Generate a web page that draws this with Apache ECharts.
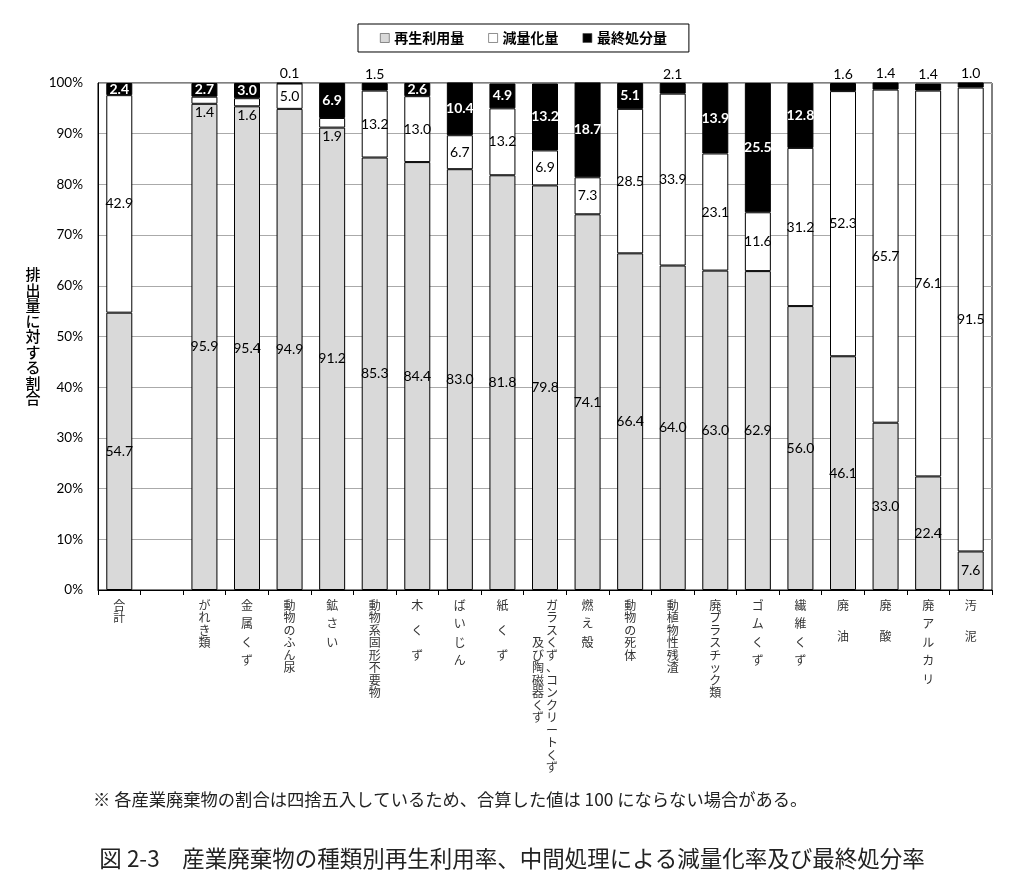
<!DOCTYPE html>
<html>
<head>
<meta charset="utf-8">
<script src="https://cdn.jsdelivr.net/npm/echarts@6/dist/echarts.min.js"></script>
<style>
  html, body { margin: 0; padding: 0; background: #fff; }
  #main { width: 1024px; height: 876px; }
</style>
</head>
<body>
<div id="main"></div>
<script>
// 種類（空欄は合計の後の間隔）。半角/全角スペースは縦書きラベルの字間
var categories = ['合計', '', 'がれき類', '金 属 く ず', '動物のふん尿', '鉱 さ い', '動物系固形不要物',
  '木　く　ず', 'ば い じ ん', '紙　く　ず', 'ガラスくず、コンクリートくず\n及び陶磁器くず', '燃 え 殻',
  '動物の死体', '動植物性残渣', '廃プラスチック類', 'ゴ ム く ず', '繊 維 く ず', '廃　 油', '廃　 酸',
  '廃 ア ル カ リ', '汚　 泥'];
var seriesNames = ['再生利用量', '減量化量', '最終処分量'];
var recycled = [54.7, null, 95.9, 95.4, 94.9, 91.2, 85.3, 84.4, 83.0, 81.8, 79.8, 74.1, 66.4, 64.0, 63.0, 62.9, 56.0, 46.1, 33.0, 22.4, 7.6];
var reduced = [42.9, null, 1.4, 1.6, 5.0, 1.9, 13.2, 13.0, 6.7, 13.2, 6.9, 7.3, 28.5, 33.9, 23.1, 11.6, 31.2, 52.3, 65.7, 76.1, 91.5];
var disposed = [2.4, null, 2.7, 3.0, 0.1, 6.9, 1.5, 2.6, 10.4, 4.9, 13.2, 18.7, 5.1, 2.1, 13.9, 25.5, 12.8, 1.6, 1.4, 1.4, 1.0];
var yTicks = [0, 10, 20, 30, 40, 50, 60, 70, 80, 90, 100];

var numFont = 'Lato, "Noto Sans", sans-serif';
var jpFont = '"Noto Sans CJK JP", sans-serif';

function col(ch) {
  if (ch === ' ') return '{h| }';
  if (ch === '　') return '{f| }';
  return '{c|' + ch + '}';
}

// 縦書きのカテゴリラベル
function verticalLabel(name) {
  if (!name) return '';
  var parts = name.split('\n');
  if (parts.length === 1) {
    return name.split('').map(col).join('\n');
  }
  // 2列：1列目が右、2列目は左で3字下げ
  var right = parts[0].split(''), left = parts[1].split('');
  var offset = 3, rows = Math.max(right.length, left.length + offset), lines = [];
  for (var i = 0; i < rows; i++) {
    var l = left[i - offset] || '　', r = right[i] || '　';
    lines.push('{l|' + l + '}{r|' + r + '}');
  }
  return lines.join('\n');
}

var fmt = function (p) { return p.value == null ? '' : p.value.toFixed(1); };

var reducedData = reduced.map(function (v) {
  if (v != null && v < 2) {
    return { value: v, label: { position: 'bottom', distance: 2 } };
  }
  return v;
});
var disposedData = disposed.map(function (v) {
  if (v != null && v < 2.2) {
    return { value: v, label: { position: 'top', distance: 2, color: '#000', fontWeight: 'normal' } };
  }
  return v;
});

var myChart = echarts.init(document.getElementById('main'));
myChart.setOption({
  backgroundColor: '#fff',
  animation: false,
  textStyle: { fontFamily: jpFont },
  title: [
    {
      text: '※ 各産業廃棄物の割合は四捨五入しているため、合算した値は 100 にならない場合がある。',
      left: 88, top: 786,
      textStyle: { fontSize: 17.3, fontWeight: 'normal', color: '#222', fontFamily: jpFont }
    },
    {
      text: '図 2-3　産業廃棄物の種類別再生利用率、中間処理による減量化率及び最終処分率',
      left: 'center', top: 842,
      textStyle: { fontSize: 22.5, fontWeight: 'normal', color: '#222', fontFamily: jpFont }
    }
  ],
  legend: {
    data: seriesNames,
    left: 358, top: 24,
    padding: [7, 22, 7, 22],
    borderColor: '#000', borderWidth: 1,
    itemWidth: 9, itemHeight: 9, itemGap: 24,
    icon: 'rect',
    itemStyle: { borderWidth: 0.6, borderColor: '#444' },
    textStyle: { fontSize: 14, fontWeight: 'bold', color: '#000', fontFamily: jpFont }
  },
  grid: {
    left: 98, right: 32, top: 83, bottom: 286,
    show: true, borderColor: '#000', borderWidth: 1
  },
  xAxis: {
    type: 'category',
    data: categories,
    axisLine: { lineStyle: { color: '#000' } },
    axisTick: { show: true, length: 5, interval: 0, lineStyle: { color: '#000' } },
    axisLabel: {
      interval: 0, margin: 9,
      color: '#333',
      formatter: verticalLabel,
      rich: {
        c: { fontSize: 12, lineHeight: 12.5, fontFamily: jpFont, color: '#333' },
        h: { fontSize: 6, lineHeight: 6 },
        f: { fontSize: 12, lineHeight: 12.5 },
        l: { fontSize: 12, lineHeight: 12.5, width: 14, align: 'center', fontFamily: jpFont, color: '#333' },
        r: { fontSize: 12, lineHeight: 12.5, width: 14, align: 'center', fontFamily: jpFont, color: '#333' }
      }
    }
  },
  yAxis: {
    type: 'value',
    min: yTicks[0], max: yTicks[yTicks.length - 1], interval: 10,
    name: '排出量に対する割合'.split('').join('\n'),
    nameLocation: 'middle',
    nameRotate: 0,
    nameGap: 65,
    nameTextStyle: { fontSize: 15, lineHeight: 15.5, color: '#000', fontWeight: 500, align: 'center', verticalAlign: 'middle', fontFamily: jpFont },
    axisLine: { show: true, lineStyle: { color: '#000' } },
    axisTick: { show: false },
    axisLabel: { formatter: '{value}%', fontSize: 13.5, color: '#000', margin: 15, fontFamily: numFont },
    splitLine: { lineStyle: { color: '#aaa' } }
  },
  series: [
    {
      name: seriesNames[0], type: 'bar', stack: 'total', barWidth: 26,
      data: recycled,
      itemStyle: { color: '#d9d9d9', borderColor: '#000', borderWidth: 1 },
      label: { show: true, position: 'inside', color: '#000', fontSize: 14, fontFamily: numFont, formatter: fmt }
    },
    {
      name: seriesNames[1], type: 'bar', stack: 'total', barWidth: 26,
      data: reducedData,
      itemStyle: { color: '#fff', borderColor: '#000', borderWidth: 1 },
      label: { show: true, position: 'inside', color: '#000', fontSize: 14, fontFamily: numFont, formatter: fmt }
    },
    {
      name: seriesNames[2], type: 'bar', stack: 'total', barWidth: 26,
      data: disposedData,
      itemStyle: { color: '#000', borderColor: '#000', borderWidth: 1 },
      label: { show: true, position: 'inside', color: '#fff', fontWeight: 'bold', fontSize: 14, fontFamily: numFont, formatter: fmt }
    }
  ]
});
</script>
</body>
</html>
